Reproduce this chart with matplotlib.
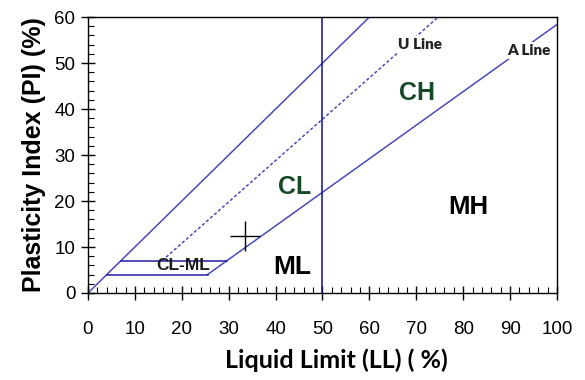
import numpy as np
import matplotlib
matplotlib.use("Agg")
import matplotlib.pyplot as plt
from matplotlib.ticker import MultipleLocator

plt.rcParams['font.family'] = ['Liberation Sans', 'DejaVu Sans']

# Casagrande plasticity chart boundaries
a_line_ll = [25.5, 100]            # A line: PI = 0.73 (LL - 20), from PI = 4
u_line_ll = [15.8, 74.7]           # U line: PI = 0.9 (LL - 8), from PI = 7
upper_ll = [0, 60]                 # PI = LL
cl_ml_low_ll = [4, 25.5]           # PI = 4
cl_ml_high_ll = [7, 29.6]          # PI = 7
cl_ml_pi = [4, 7]
ll_divide = 50

# Zone labels: (text, LL, PI, colour, size)
zones = [
    ("CL-ML", 20.3, 5.9, "#1a1a1a", 12.5),
    ("ML", 43.5, 5.6, "black", 19),
    ("CL", 44.0, 23.0, "#174a26", 18),
    ("CH", 70.2, 43.6, "#174a26", 18),
    ("MH", 81.0, 18.8, "black", 18.5),
]
sample_point = (33.5, 12.5)

diag_col = "#4a4ab8"
edge_col = "#1c1ca0"

fig = plt.figure(figsize=(5.85, 3.8), dpi=100)
ax = fig.add_axes([0.1504, 0.229, 0.8017, 0.726])

ll = np.array(a_line_ll)
ax.plot(ll, 0.73 * (ll - 20), color=diag_col, lw=1.1)
ll = np.array(u_line_ll)
ax.plot(ll, 0.9 * (ll - 8), color=diag_col, lw=1.1, ls=(0, (2, 1.5)))
ll = np.array(upper_ll)
ax.plot(ll, ll, color=diag_col, lw=1.1)
ax.plot(cl_ml_low_ll, [cl_ml_pi[0]] * 2, color=edge_col, lw=1.1)
ax.plot(cl_ml_high_ll, [cl_ml_pi[1]] * 2, color=edge_col, lw=1.1)
ax.plot([ll_divide, ll_divide], [0, 60], color="#10108c", lw=1.1)

ax.plot(*sample_point, marker='+', color='black', markersize=22, mew=1.0)

for txt, x, y, c, s in zones:
    ax.text(x, y, txt, color=c, fontsize=s, fontweight='bold',
            ha='center', va='center')

box = dict(facecolor='white', edgecolor='none', pad=1.5)
ax.text(70.8, 54.0, "U Line", fontsize=11, fontweight='heavy', color='#222222',
        ha='center', va='center', bbox=box, family=['Lato', 'DejaVu Sans'])
ax.text(94.0, 52.8, "A Line", fontsize=11, fontweight='heavy', color='#222222',
        ha='center', va='center', bbox=box, family=['Lato', 'DejaVu Sans'])

ax.set_xlim(0, 100)
ax.set_ylim(0, 60)
ax.xaxis.set_major_locator(MultipleLocator(10))
ax.xaxis.set_minor_locator(MultipleLocator(2))
ax.yaxis.set_major_locator(MultipleLocator(10))
ax.yaxis.set_minor_locator(MultipleLocator(2))
ax.tick_params(which='major', direction='inout', length=10, width=1,
               labelsize=13.5, pad=4)
ax.tick_params(which='minor', direction='in', length=4, width=0.8)
ax.tick_params(axis='x', pad=15)
for sp in ax.spines.values():
    sp.set_linewidth(1.0)

ax.set_xlabel("Liquid Limit (LL) ( %)", fontsize=18, fontweight='bold',
              family=['Lato', 'DejaVu Sans'])
ax.xaxis.set_label_coords(0.529, -0.2)
ax.set_ylabel("Plasticity Index (PI) (%)", fontsize=18, fontweight='bold', labelpad=6)

fig.savefig("out.png", dpi=100)
